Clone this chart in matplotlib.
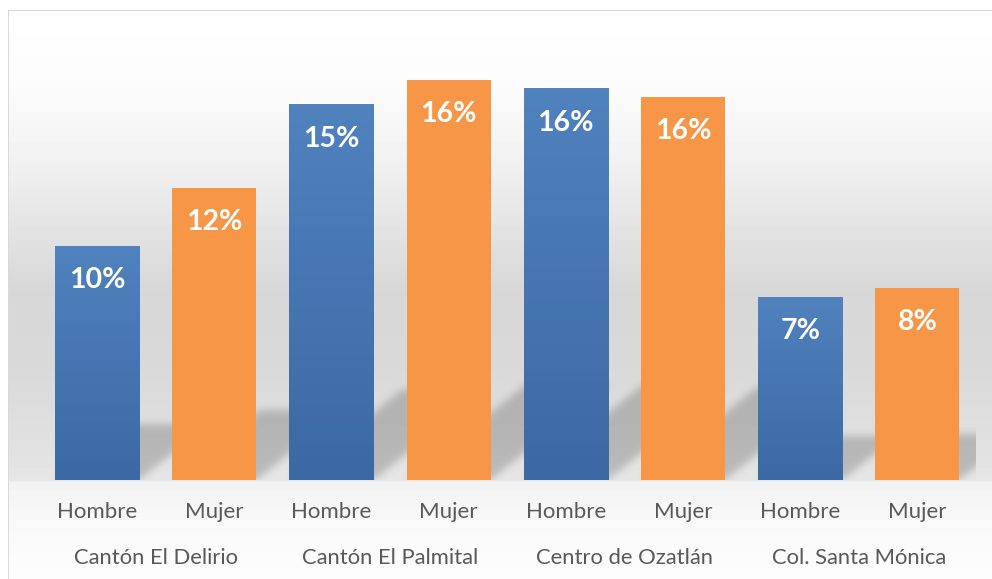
import numpy as np
import matplotlib.pyplot as plt
from matplotlib.colors import LinearSegmentedColormap

# Data (percent)
zonas = ['Cantón El Delirio', 'Cantón El Palmital', 'Centro de Ozatlán', 'Col. Santa Mónica']
sexo = ['Hombre', 'Mujer']
hombre = [9.55, 15.35, 16.0, 7.48]
mujer = [11.95, 16.35, 15.65, 7.85]

BLUE_TOP = '#5082be'
BLUE_BOT = '#3c69a3'
ORANGE = '#f79646'
GREY_TXT = '#595959'

W_PX, H_PX = 992, 579
fig = plt.figure(figsize=(W_PX / 100, H_PX / 100), dpi=100)

# plot area
ax_l, ax_r, ax_b, ax_t = 38.4, 976.0, 480.0, 40.0
ax = fig.add_axes([ax_l / W_PX, 1 - ax_b / H_PX, (ax_r - ax_l) / W_PX, (ax_b - ax_t) / H_PX])
ax.patch.set_alpha(0)
ymax = 18
ax.set_xlim(-0.5, 7.5)
ax.set_ylim(0, ymax)

values = []
for h, m in zip(hombre, mujer):
    values += [h, m]
values = np.array(values)
xpos = np.arange(len(values))
colors = [BLUE_TOP, ORANGE] * len(zonas)
bw = 0.717

# ---- background: grey gradient + soft bar shadows, built in pixel space
rows = np.arange(H_PX)
stops_y = [10, 80, 150, 220, 290, 370, 440, 480, 482, 520, 579]
stops_v = [255, 252, 243, 229, 215, 217, 224, 230, 243, 248, 253]
img = np.repeat(np.interp(rows, stops_y, stops_v)[:, None], W_PX, axis=1)

# shadows cast up and to the right of each bar
PX, PY = np.meshgrid(np.arange(W_PX) + 0.5, np.arange(H_PX) + 0.5)
mask = np.zeros((H_PX, W_PX))
for x, v in zip(xpos, values):
    (x0, y0), (x1, y1) = ax.transData.transform([(x - bw / 2, 0), (x + bw / 2, v)])
    base = H_PX - y0
    hs = 0.24 * (y1 - y0)
    up = base - PY
    inside = (up >= 0) & (up <= hs) & (PX >= x0 + up * 1.25) & (PX <= x1 + up * 1.25)
    mask[inside] = 1.0
k = np.arange(-12, 13)
g = np.exp(-k ** 2 / (2 * 4.0 ** 2))
g /= g.sum()
mask = np.apply_along_axis(lambda r: np.convolve(r, g, mode='same'), 1, mask)
mask = np.apply_along_axis(lambda c: np.convolve(c, g, mode='same'), 0, mask)
plot_region = (PX >= ax_l) & (PX <= ax_r) & (PY <= ax_b)
img = np.where(plot_region, img * (1 - 0.19 * mask), img)

# chart border (left and top) and white margin outside it
img[:10, :] = 255
img[:, :8] = 255
img[10, 8:] = 217
img[10:, 8] = 217

bg = fig.add_axes([0, 0, 1, 1], zorder=-1)
bg.imshow(img / 255.0, cmap='gray', vmin=0, vmax=1, aspect='auto',
          extent=(0, W_PX, 0, H_PX), interpolation='nearest')
bg.axis('off')

bars = ax.bar(xpos, values, width=bw, color=colors, zorder=2)

# vertical gradient on the blue bars
blue_cmap = LinearSegmentedColormap.from_list('blu', [BLUE_BOT, BLUE_TOP])
grad = np.linspace(0, 1, 64)[:, None]
for i, b in enumerate(bars):
    if i % 2 == 0:
        ax.imshow(grad, cmap=blue_cmap, origin='lower', aspect='auto', zorder=3,
                  extent=(b.get_x(), b.get_x() + b.get_width(), 0, b.get_height()))
ax.set_xlim(-0.5, 7.5)
ax.set_ylim(0, ymax)

# data labels
for x, v in zip(xpos, values):
    ax.annotate(f'{v:.0f}%', (x, v), xytext=(0, -30.2), textcoords='offset points',
                ha='center', va='baseline', color='white', fontsize=20.5,
                fontweight='bold', family='Lato', zorder=5)

# two-level category axis
sy = (ax_b - ax_t) / ymax
for x in xpos:
    ax.text(x, -38 / sy, sexo[x % 2], ha='center', va='baseline', fontsize=16,
            color=GREY_TXT, family='Lato', clip_on=False)
for j, z in enumerate(zonas):
    ax.text(2 * j + 0.5, -84 / sy, z, ha='center', va='baseline', fontsize=15.8,
            color=GREY_TXT, family='Lato', clip_on=False)

ax.set_xticks([])
ax.set_yticks([])
for s in ax.spines.values():
    s.set_visible(False)

fig.savefig('out.png', dpi=100)
